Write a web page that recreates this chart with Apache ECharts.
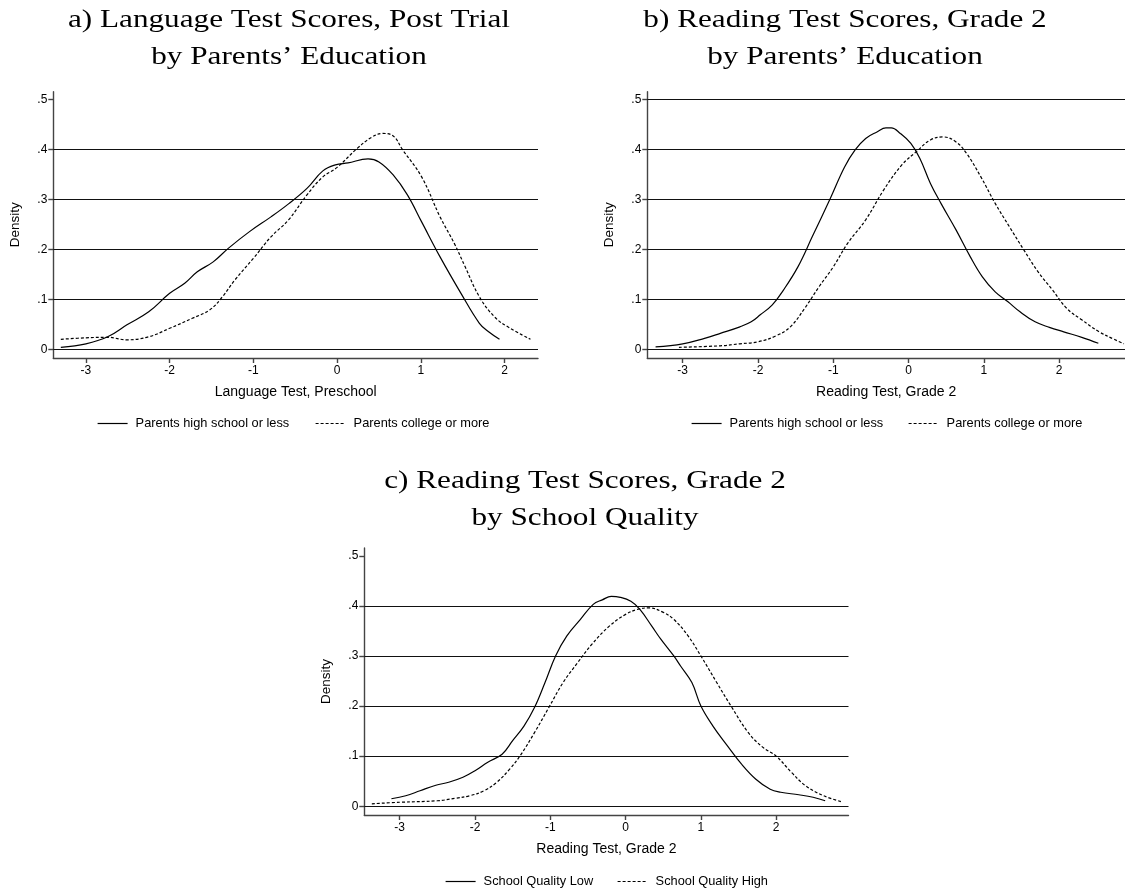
<!DOCTYPE html>
<html><head><meta charset="utf-8">
<script src="https://cdn.jsdelivr.net/npm/echarts@6.0.0/dist/echarts.min.js"></script>
<style>html,body{margin:0;padding:0;background:#fff}#c{width:1125px;height:891px}</style>
</head><body><div id="c"></div>
<script>
// ---------- data ----------
const xTicks = [-3, -2, -1, 0, 1, 2];
const yTicks = [0, 0.1, 0.2, 0.3, 0.4, 0.5];
const yTickLabels = ['0', '.1', '.2', '.3', '.4', '.5'];
const gridLinesA = [0, 0.1, 0.2, 0.3, 0.4];
const gridLinesB = [0, 0.1, 0.2, 0.3, 0.4, 0.5];
const gridLinesC = [0, 0.1, 0.2, 0.3, 0.4];

const namesAB = ['Parents high school or less', 'Parents college or more'];
const namesC = ['School Quality Low', 'School Quality High'];

// Panel a: Language test, preschool
const aLowX = [-3.30,-3.0,-2.74,-2.51,-2.25,-2.0,-1.82,-1.67,-1.48,-1.30,-1.05,-0.79,-0.58,-0.36,-0.17,-0.02,0.13,0.37,0.50,0.67,0.84,1.01,1.23,1.48,1.70,1.81,1.94];
const aLowY = [0.004,0.011,0.025,0.049,0.075,0.112,0.132,0.155,0.175,0.202,0.235,0.265,0.291,0.322,0.357,0.369,0.373,0.381,0.375,0.349,0.309,0.255,0.185,0.112,0.052,0.035,0.020];
const aHighX = [-3.30,-3.0,-2.74,-2.51,-2.25,-2.0,-1.73,-1.52,-1.37,-1.22,-1.0,-0.79,-0.58,-0.36,-0.17,0.0,0.24,0.41,0.54,0.67,0.78,1.01,1.23,1.40,1.53,1.70,1.88,2.04,2.31];
const aHighY = [0.020,0.023,0.024,0.019,0.025,0.042,0.062,0.079,0.105,0.139,0.182,0.225,0.259,0.309,0.345,0.364,0.402,0.424,0.432,0.427,0.400,0.345,0.265,0.212,0.165,0.105,0.065,0.045,0.020];

// Panel b: Reading test, grade 2 by parents' education
const bLowX = [-3.36,-3.0,-2.71,-2.50,-2.24,-2.09,-1.97,-1.81,-1.66,-1.47,-1.28,-1.04,-0.85,-0.71,-0.57,-0.42,-0.30,-0.23,-0.11,0.03,0.15,0.29,0.43,0.63,0.82,0.98,1.15,1.32,1.48,1.68,1.87,2.06,2.30,2.52];
const bLowY = [0.005,0.011,0.022,0.032,0.045,0.055,0.069,0.089,0.119,0.165,0.225,0.302,0.365,0.399,0.422,0.435,0.443,0.443,0.432,0.412,0.382,0.332,0.292,0.239,0.185,0.145,0.115,0.095,0.075,0.055,0.044,0.035,0.024,0.012];
const bHighX = [-3.05,-2.50,-2.24,-2.0,-1.76,-1.57,-1.38,-1.19,-1.0,-0.81,-0.57,-0.33,-0.09,0.10,0.29,0.46,0.63,0.77,0.96,1.15,1.34,1.53,1.72,1.91,2.10,2.30,2.53,2.73,2.86];
const bHighY = [0.004,0.007,0.011,0.015,0.027,0.045,0.082,0.125,0.165,0.212,0.259,0.319,0.369,0.395,0.419,0.425,0.415,0.392,0.345,0.292,0.245,0.199,0.155,0.119,0.082,0.059,0.035,0.020,0.011];

// Panel c: Reading test, grade 2 by school quality
const cLowX = [-3.11,-2.92,-2.73,-2.52,-2.35,-2.16,-2.0,-1.83,-1.64,-1.50,-1.35,-1.21,-1.07,-0.93,-0.78,-0.60,-0.43,-0.31,-0.19,-0.07,0.07,0.19,0.35,0.47,0.64,0.73,0.88,1.0,1.16,1.35,1.54,1.73,1.92,2.06,2.30,2.49,2.65];
const cLowY = [0.015,0.021,0.031,0.042,0.048,0.058,0.071,0.088,0.104,0.131,0.160,0.197,0.247,0.300,0.340,0.373,0.403,0.412,0.419,0.417,0.409,0.393,0.359,0.333,0.300,0.280,0.247,0.200,0.160,0.121,0.084,0.054,0.034,0.028,0.023,0.018,0.011];
const cHighX = [-3.37,-3.0,-2.50,-2.26,-2.07,-1.88,-1.71,-1.54,-1.40,-1.21,-1.02,-0.83,-0.64,-0.45,-0.22,0.0,0.16,0.31,0.50,0.64,0.83,1.0,1.21,1.40,1.63,1.82,2.0,2.20,2.39,2.63,2.87];
const cHighY = [0.005,0.008,0.011,0.016,0.021,0.031,0.048,0.074,0.101,0.147,0.197,0.247,0.286,0.323,0.359,0.383,0.393,0.396,0.387,0.373,0.340,0.300,0.247,0.200,0.147,0.118,0.100,0.068,0.041,0.021,0.009];

// ---------- build ----------
const zip = (xs, ys) => xs.map((x, i) => [x, ys[i]]);
const SANS = 'Liberation Sans, Arial, sans-serif';
const SERIF = 'Liberation Serif, Times New Roman, serif';

function yLabel(v) {
  const i = yTicks.findIndex(t => Math.abs(t - v) < 1e-6);
  return i >= 0 ? yTickLabels[i] : '';
}
function xLabel(v) { return String(Math.round(v)); }

const axisLineStyle = { color: '#444', width: 1.4 };

function xAxis(idx, min, max, name) {
  return {
    gridIndex: idx, type: 'value', min: min, max: max,
    name: name, nameLocation: 'middle', nameGap: 27,
    nameTextStyle: { fontFamily: SANS, fontSize: 14, color: '#000' },
    axisLine: { show: true, onZero: false, lineStyle: axisLineStyle },
    axisTick: { show: true, length: 5, customValues: xTicks, lineStyle: axisLineStyle },
    axisLabel: { customValues: xTicks, formatter: xLabel, fontFamily: SANS, fontSize: 12, color: '#000', margin: 7 },
    splitLine: { show: false }
  };
}
function yAxis(idx) {
  return {
    gridIndex: idx, type: 'value', min: -0.0174, max: 0.5155,
    name: 'Density', nameLocation: 'middle', nameGap: 31,
    nameTextStyle: { fontFamily: SANS, fontSize: 13.5, color: '#000' },
    axisLine: { show: true, onZero: false, lineStyle: axisLineStyle },
    axisTick: { show: true, length: 5, customValues: yTicks, lineStyle: axisLineStyle },
    axisLabel: { customValues: yTicks, formatter: yLabel, fontFamily: SANS, fontSize: 12, color: '#000', margin: 6 },
    splitLine: { show: false }
  };
}
function gridMarks(vals) {
  return {
    silent: true, symbol: ['none', 'none'], label: { show: false },
    lineStyle: { color: '#111', type: 'solid', width: 1 },
    emphasis: { disabled: true },
    animation: false,
    data: vals.map(v => ({ yAxis: v }))
  };
}
function curve(name, idx, xs, ys, dashed, marks) {
  const s = {
    name: name, type: 'line', xAxisIndex: idx, yAxisIndex: idx,
    data: zip(xs, ys), symbol: 'none', smooth: 0.4, clip: true,
    lineStyle: { color: '#000', width: 1.2, type: dashed ? [3, 2] : 'solid' },
    itemStyle: { color: '#000' },
    emphasis: { disabled: true }, z: 5
  };
  if (marks) s.markLine = gridMarks(marks);
  return s;
}
function legendItem(name, left, cy) {
  return {
    data: [name], left: left, top: cy - 8, orient: 'horizontal', padding: 0,
    itemWidth: 30, itemHeight: 16, selectedMode: false,
    itemStyle: { color: 'rgba(0,0,0,0)', borderColor: 'rgba(0,0,0,0)', borderWidth: 0 },
    lineStyle: { width: 1.2 },
    textStyle: { fontFamily: SANS, fontSize: 12.8, color: '#000', padding: [0, 0, 0, 3] }
  };
}
function titleText(txt, x, y) {
  return { type: 'text', x: x, y: y, scaleX: 1.2, silent: true,
    style: { text: txt, fill: '#000', font: '26px ' + SERIF, textAlign: 'center', textVerticalAlign: 'middle' } };
}

const option = {
  animation: false,
  backgroundColor: '#fff',
  grid: [
    { left: 53.3, top: 91.7, width: 484.7, height: 266.3 },
    { left: 647.3, top: 91.7, width: 477.7, height: 266.3 },
    { left: 364.3, top: 548, width: 484.2, height: 267 }
  ],
  xAxis: [
    xAxis(0, -3.39, 2.40, 'Language Test, Preschool'),
    xAxis(1, -3.47, 2.874, 'Reading Test, Grade 2'),
    xAxis(2, -3.47, 2.96, 'Reading Test, Grade 2')
  ],
  yAxis: [yAxis(0), yAxis(1), yAxis(2)],
  legend: [
    legendItem(namesAB[0], 97, 425),
    legendItem(namesAB[1], 315, 425),
    legendItem(namesAB[0], 691, 425),
    legendItem(namesAB[1], 908, 425),
    legendItem(namesC[0], 445, 883),
    legendItem(namesC[1], 617, 883)
  ],
  graphic: [
    titleText('a) Language Test Scores, Post Trial', 289, 20),
    titleText('by Parents\u2019 Education', 289, 57),
    titleText('b) Reading Test Scores, Grade 2', 845, 20),
    titleText('by Parents\u2019 Education', 845, 57),
    titleText('c) Reading Test Scores, Grade 2', 585, 481),
    titleText('by School Quality', 585, 518)
  ],
  series: [
    curve(namesAB[0], 0, aLowX, aLowY, false, gridLinesA),
    curve(namesAB[1], 0, aHighX, aHighY, true),
    curve(namesAB[0], 1, bLowX, bLowY, false, gridLinesB),
    curve(namesAB[1], 1, bHighX, bHighY, true),
    curve(namesC[0], 2, cLowX, cLowY, false, gridLinesC),
    curve(namesC[1], 2, cHighX, cHighY, true)
  ]
};
const chart = echarts.init(document.getElementById('c'), null, { renderer: 'canvas' });
chart.setOption(option);
</script>
</body></html>
